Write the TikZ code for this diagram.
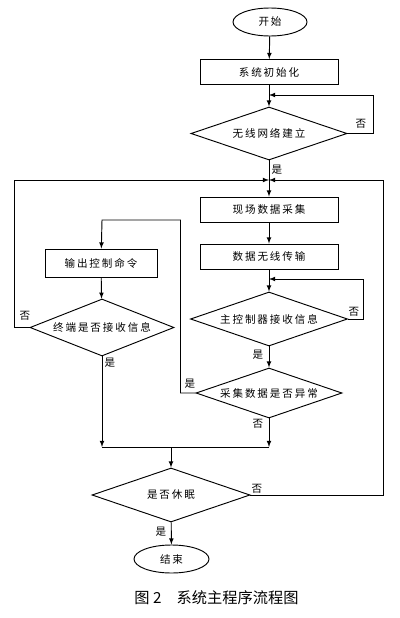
\documentclass[tikz,border=0pt]{standalone}
\usepackage{fontspec}
\setmainfont{Noto Sans CJK SC}
\newfontfamily\boxfont[LetterSpace=18]{Noto Sans CJK SC}
\usepackage{tikz}
\usetikzlibrary{arrows,shapes,calc}

\tikzset{
  flowbox/.style={draw, rectangle, minimum width=4.14cm, minimum height=0.75cm, inner sep=0pt, font=\boxfont\fontsize{9}{10}\selectfont},
  decide/.style={draw, diamond, inner sep=0pt, aspect=2.9, font=\boxfont\fontsize{9}{10}\selectfont},
  terminal/.style={draw, ellipse, minimum width=2.22cm, minimum height=0.84cm, inner sep=0pt, font=\boxfont\fontsize{9}{10}\selectfont},
  yesno/.style={inner sep=0pt, font=\fontsize{9}{10}\selectfont},
}

\begin{document}
\begin{tikzpicture}[x=0.03cm, y=-0.03cm, >=latex, line width=0.8pt]
\useasboundingbox (0,0) rectangle (400,618);
% main column
\node[terminal] (start) at (270,22) {开始};
\node[flowbox] (init) at (269,72) {系统初始化};
\node[decide, minimum width=4.68cm, minimum height=1.59cm] (netok) at (269,133.5) {无线网络建立};
\node[flowbox] (collect) at (269,209.5) {现场数据采集};
\node[flowbox] (trans) at (269,256.5) {数据无线传输};
\node[decide, minimum width=4.71cm, minimum height=1.62cm] (recv) at (269,319) {主控制器接收信息};
\node[decide, minimum width=4.38cm, minimum height=1.5cm] (abnorm) at (269,393) {采集数据是否异常};
% left column
\node[flowbox, minimum width=3.36cm, minimum height=0.84cm] (output) at (101,263) {输出控制命令};
\node[decide, aspect=2.5, minimum width=4.32cm, minimum height=1.71cm] (termrecv) at (102,327.5) {终端是否接收信息};
% bottom
\node[decide, minimum width=4.74cm, minimum height=1.62cm] (sleep) at (171,495) {是否休眠};
\node[terminal, minimum width=2.25cm] (stop) at (171.5,559) {结束};

\coordinate (j1) at (269,95);
\coordinate (j2) at (269,180);
\coordinate (j3) at (269,279);
\coordinate (j4) at (102,220);
\coordinate (m1) at (102,447);
\coordinate (m2) at (269,447);
\coordinate (m3) at (171,447);

\draw[->] (start) -- (init);
\draw[->] (init) -- (netok);
\draw[->] (netok.east) -- ++(26,0) |- (j1);
\draw[->] (netok) -- (collect);
\draw[->] (termrecv.west) -- ++(-15,0) |- (j2);
\draw[->] (sleep.east) -- ++(133,0) |- (j2);
\draw[->] (collect) -- (trans);
\draw[->] (trans) -- (recv);
\draw[->] (recv.east) -- ++(15,0) |- (j3);
\draw[->] (recv) -- (abnorm);
\draw[->] (abnorm.west) -- ++(-15,0) |- (j4) -- (output);
\draw[->] (output) -- (termrecv);
\draw[->] (termrecv) -- (m1);
\draw[->] (abnorm) -- (m2);
\draw (m1) -- (m2);
\draw[->] (m3) -- (sleep);
\draw[->] (sleep) -- (stop);

% yes / no labels
\node[yesno] (n1) at (361,124) {否};
\node[yesno] (y1) at (277,170) {是};
\node[yesno] (n2) at (25,316) {否};
\node[yesno] (y2) at (110,363) {是};
\node[yesno] (n3) at (354,312) {否};
\node[yesno] (y3) at (258,355) {是};
\node[yesno] (y4) at (190,384) {是};
\node[yesno] (n4) at (258,424) {否};
\node[yesno] (n5) at (257,489) {否};
\node[yesno] (y5) at (161,532) {是};

\node[inner sep=0pt, font=\fontsize{13}{15}\selectfont] (caption) at (216.5,598) {图 2\hspace{1em}系统主程序流程图};
\end{tikzpicture}
\end{document}
